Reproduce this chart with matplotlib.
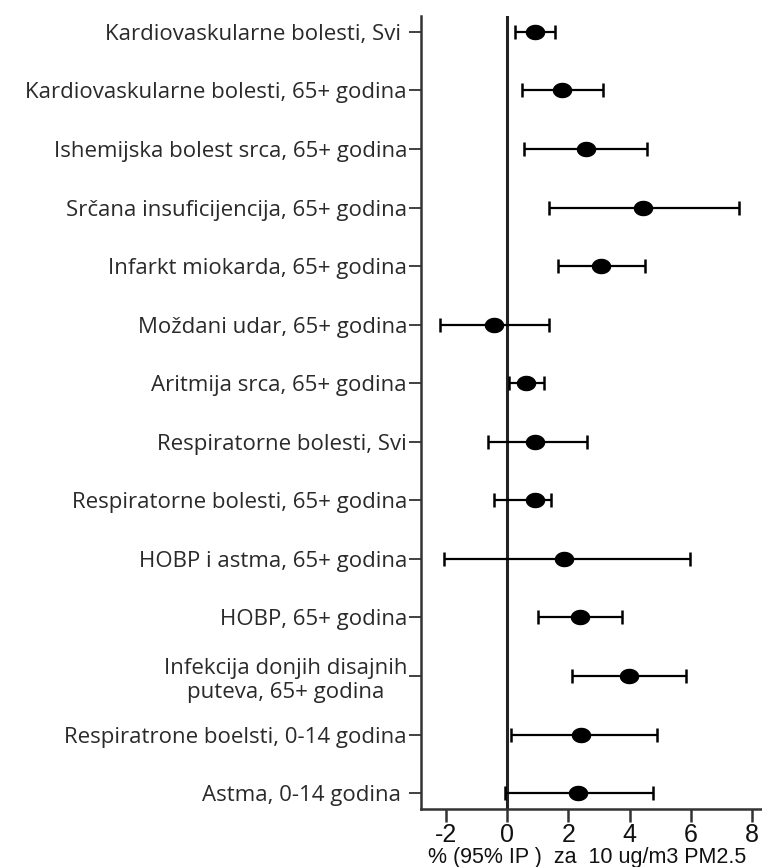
import matplotlib
matplotlib.use("Agg")
import matplotlib.pyplot as plt
import numpy as np
from matplotlib.path import Path

labels = [
    "Kardiovaskularne bolesti, Svi ",
    "Kardiovaskularne bolesti, 65+ godina",
    "Ishemijska bolest srca, 65+ godina",
    "Srčana insuficijencija, 65+ godina",
    "Infarkt miokarda, 65+ godina",
    "Moždani udar, 65+ godina",
    "Aritmija srca, 65+ godina",
    "Respiratorne bolesti, Svi",
    "Respiratorne bolesti, 65+ godina",
    "HOBP i astma, 65+ godina",
    "HOBP, 65+ godina",
    "Infekcija donjih disajnih\nputeva, 65+ godina",
    "Respiratrone boelsti, 0-14 godina",
    "Astma, 0-14 godina ",
]
estimate = [0.90, 1.80, 2.56, 4.42, 3.06, -0.43, 0.61, 0.92, 0.92, 1.86, 2.39, 3.97, 2.42, 2.30]
lower    = [0.25, 0.49, 0.54, 1.35, 1.65, -2.21, 0.05, -0.62, -0.42, -2.08, 1.00, 2.12, 0.13, -0.07]
upper    = [1.55, 3.12, 4.58, 7.56, 4.50, 1.36, 1.20, 2.61, 1.43, 5.96, 3.75, 5.83, 4.88, 4.77]
xticks = [-2, 0, 2, 4, 6, 8]
xlabel = "% (95% IP )  za  10 ug/m3 PM2.5"

W, H = 762, 867
fig = plt.figure(figsize=(W / 100, H / 100), dpi=100)
left_px, right_px, top_px, bot_px = 421, 771, 16, 809
ax = fig.add_axes([left_px / W, 1 - bot_px / H, (right_px - left_px) / W, (bot_px - top_px) / H])

y = np.arange(len(labels))
est = np.array(estimate)
lo = np.array(lower)
hi = np.array(upper)

# ellipse marker (slightly wider than tall)
t = np.linspace(0, 2 * np.pi, 60)
verts = np.column_stack([np.cos(t) * 1.0, np.sin(t) * 0.78])
ell = Path(verts, closed=True)

ax.axvline(0, color="#222222", lw=2.2, zorder=1)
ax.errorbar(est, y, xerr=[est - lo, hi - est], fmt="none", ecolor="black",
            elinewidth=1.6, capsize=5, capthick=1.8, zorder=2)
ax.plot(est, y, linestyle="none", marker=ell, markersize=13,
        color="black", zorder=3)

ax.set_xlim(-2.82, 8.62)
ax.set_ylim(len(labels) - 1 + 0.27, -0.27)

ax.set_yticks(y)
ax.set_yticklabels(labels, fontfamily="Open Sans", fontsize=16, color="#2a2a2a",
                   multialignment="center")
ax.set_xticks(xticks)
ax.set_xticklabels([str(v) for v in xticks], fontfamily="Liberation Sans",
                   fontsize=18, color="#111111")

for s in ["top", "right"]:
    ax.spines[s].set_visible(False)
for s in ["left", "bottom"]:
    ax.spines[s].set_linewidth(1.8)
    ax.spines[s].set_color("#333333")

ax.tick_params(axis="y", length=9, width=1.3, pad=1, colors="#333333", labelcolor="#2a2a2a")
ax.tick_params(axis="x", length=9, width=1.8, pad=1, colors="#333333", labelcolor="#111111")

ax.set_xlabel(xlabel, fontfamily="Liberation Sans", fontsize=15.5, color="#111111",
              ha="left", va="center")
ax.xaxis.set_label_coords((428 - left_px) / (right_px - left_px), -(858 - bot_px) / (bot_px - top_px))

fig.savefig("out.png", dpi=100)
